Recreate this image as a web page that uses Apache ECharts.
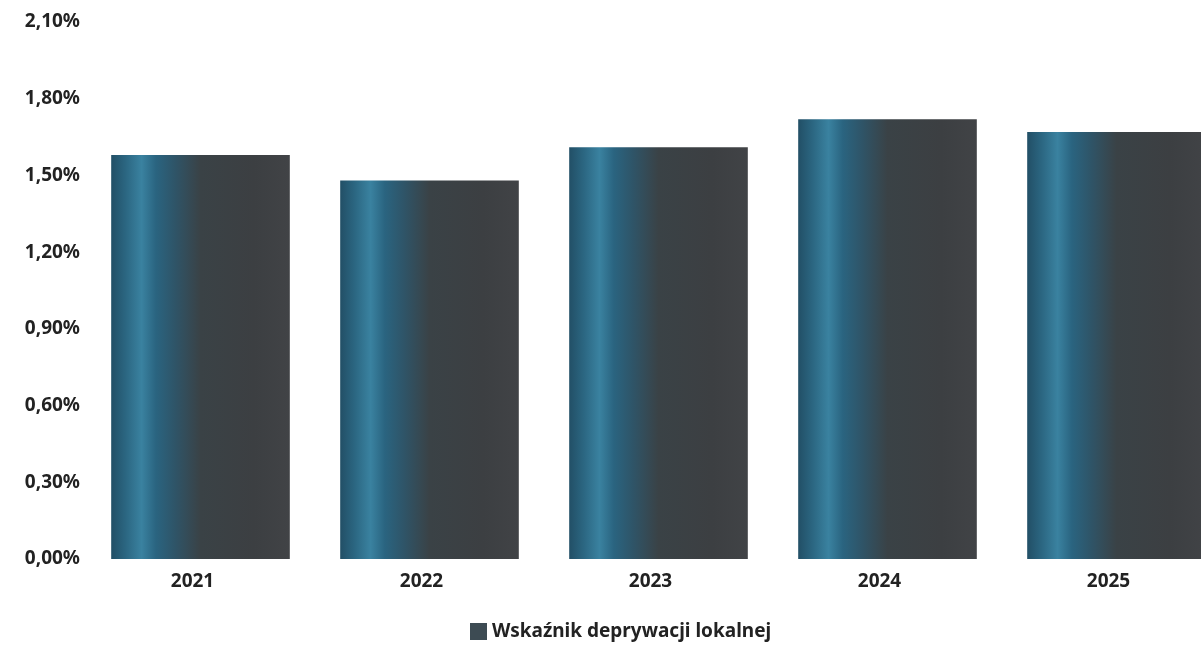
<!DOCTYPE html>
<html>
<head>
<meta charset="utf-8">
<script src="https://cdn.jsdelivr.net/npm/echarts@6/dist/echarts.min.js"></script>
<style>html,body{margin:0;padding:0;background:#fff;}#c{width:1201px;height:646px;}</style>
</head>
<body>
<div id="c"></div>
<script>
const categories = ['2021', '2022', '2023', '2024', '2025'];
const values = [1.58, 1.48, 1.61, 1.72, 1.67];
const seriesName = 'Wskaźnik deprywacji lokalnej';

const chart = echarts.init(document.getElementById('c'));
const barColor = new echarts.graphic.LinearGradient(0, 0, 1, 0, [
  { offset: 0, color: '#224f66' },
  { offset: 0.08, color: '#2b6681' },
  { offset: 0.17, color: '#3a82a0' },
  { offset: 0.25, color: '#2a6480' },
  { offset: 0.36, color: '#2f5467' },
  { offset: 0.5, color: '#3a4246' },
  { offset: 0.8, color: '#3c3f42' },
  { offset: 1, color: '#414346' }
]);
const font = '"Noto Sans", "Open Sans", sans-serif';
chart.setOption({
  animation: false,
  backgroundColor: '#ffffff',
  grid: { left: 86, width: 1145, top: 22, bottom: 87, containLabel: false, outerBoundsMode: 'none' },
  legend: {
    data: [seriesName],
    left: 465,
    top: 617,
    itemWidth: 17,
    itemHeight: 17,
    itemGap: 7,
    icon: 'rect',
    itemStyle: { color: '#3d4b53' },
    textStyle: { fontFamily: font, fontWeight: 'bold', fontSize: 19, color: '#222' }
  },
  xAxis: {
    type: 'category',
    data: categories,
    axisLine: { show: false },
    axisTick: { show: false },
    axisLabel: { fontFamily: font, fontWeight: 'bold', fontSize: 19, color: '#222', margin: 13, padding: [0, 16, 0, 0] }
  },
  yAxis: {
    type: 'value',
    min: 0,
    max: 2.1,
    interval: 0.3,
    splitLine: { show: false },
    axisLine: { show: false },
    axisTick: { show: false },
    axisLabel: {
      fontFamily: font, fontWeight: 'bold', fontSize: 19, color: '#222', margin: 6,
      formatter: v => v.toFixed(2).replace('.', ',') + '%'
    }
  },
  series: [{
    name: seriesName,
    type: 'bar',
    data: values,
    barWidth: '78%',
    itemStyle: { color: barColor }
  }]
});
</script>
</body>
</html>
